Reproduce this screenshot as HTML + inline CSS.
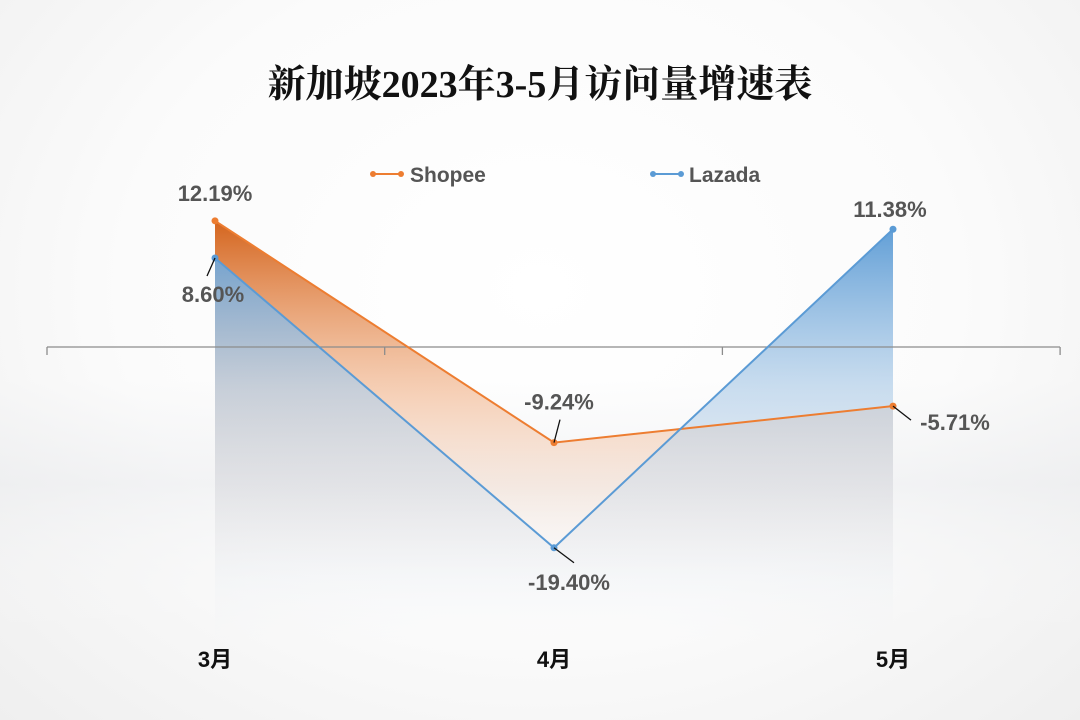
<!DOCTYPE html>
<html><head><meta charset="utf-8"><style>
html,body{margin:0;padding:0;width:1080px;height:720px;overflow:hidden}
body{background:radial-gradient(ellipse at 50% 40%,#ffffff 0%,#fbfbfb 55%,#efefef 100%);font-family:"Liberation Sans","Noto Sans CJK SC",sans-serif}
</style></head><body>
<svg width="1080" height="720" xmlns="http://www.w3.org/2000/svg">
<defs>
<linearGradient id="og" gradientUnits="userSpaceOnUse" x1="0" y1="217" x2="0" y2="580">
<stop offset="0" stop-color="#d3621a" stop-opacity="1"/><stop offset="0.5" stop-color="#f0a878" stop-opacity="0.5"/><stop offset="1" stop-color="#fbe6d8" stop-opacity="0"/></linearGradient>
<linearGradient id="bg" gradientUnits="userSpaceOnUse" x1="0" y1="220" x2="0" y2="640">
<stop offset="0" stop-color="#5b9bd5" stop-opacity="1"/><stop offset="0.4" stop-color="#b3cfe9" stop-opacity="0.7"/><stop offset="0.75" stop-color="#dfe6ee" stop-opacity="0.4"/><stop offset="1" stop-color="#eef1f5" stop-opacity="0"/></linearGradient>
<linearGradient id="floor" x1="0" y1="0" x2="0" y2="1"><stop offset="0" stop-color="#e4e6ea" stop-opacity="0"/><stop offset="0.4" stop-color="#e2e4e8" stop-opacity="0.35"/><stop offset="1" stop-color="#ffffff" stop-opacity="0"/></linearGradient>
</defs>
<rect x="0" y="380" width="1080" height="260" fill="url(#floor)"/>
<text x="540" y="97" text-anchor="middle" font-family="'Liberation Serif','Noto Serif CJK SC',serif" font-size="38" font-weight="bold" fill="#111">新加坡2023年3-5月访问量增速表</text>
<g>
<g><line x1="372" y1="174" x2="402" y2="174" stroke="#ed7d31" stroke-width="2"/><circle cx="373" cy="174" r="3" fill="#ed7d31"/><circle cx="401" cy="174" r="3" fill="#ed7d31"/><text x="410" y="182" font-size="21" font-weight="bold" fill="#555">Shopee</text></g>
<g><line x1="652" y1="174" x2="682" y2="174" stroke="#5b9bd5" stroke-width="2"/><circle cx="653" cy="174" r="3" fill="#5b9bd5"/><circle cx="681" cy="174" r="3" fill="#5b9bd5"/><text x="689" y="182" font-size="21" font-weight="bold" fill="#555">Lazada</text></g>
</g>
<g id="plot"></g>
<script>
const categories=["3月","4月","5月"];
const shopee=[12.19,-9.24,-5.71];
const lazada=[8.60,-19.40,11.38];
const shopeeLabels=["12.19%","-9.24%","-5.71%"];
const lazadaLabels=["8.60%","-19.40%","11.38%"];
const NS="http://www.w3.org/2000/svg";
const plot=document.getElementById('plot');
function xs(i){return 215+i*339;}
function ys(v){return 347-v*10.35;}
function mk(tag,attrs,parent){const e=document.createElementNS(NS,tag);for(const k in attrs)e.setAttribute(k,attrs[k]);(parent||plot).appendChild(e);return e;}
function area(arr,fill,bottom){let d='M'+xs(0)+','+bottom;arr.forEach((v,i)=>d+=' L'+xs(i)+','+ys(v));d+=' L'+xs(arr.length-1)+','+bottom+' Z';return mk('path',{d:d,fill:fill});}
const ao=area(shopee,'url(#og)',640);


const ab=area(lazada,'url(#bg)',640);


const ax=mk('line',{x1:47,y1:347,x2:1060,y2:347,stroke:'#8c8c8c','stroke-width':1.3});


[0,1,2,3].forEach(i=>{const t=mk('line',{x1:47+i*337.7,y1:347,x2:47+i*337.7,y2:355,stroke:'#8c8c8c','stroke-width':1.3});

});
function line(arr,color,name){const pts=arr.map((v,i)=>xs(i)+','+ys(v)).join(' ');const p=mk('polyline',{points:pts,fill:'none',stroke:color,'stroke-width':2});


arr.forEach((v,i)=>{const c=mk('circle',{cx:xs(i),cy:ys(v),r:3.5,fill:color});

});}
line(shopee,'#ed7d31','shopee');
line(lazada,'#5b9bd5','lazada');
const sOff=[[0,-20,false],[5,-33,true],[62,24,true]];
const lOff=[[-2,44,true],[15,42,true],[-3,-12,false]];
function labels(arr,lbls,offs,name){arr.forEach((v,i)=>{const x=xs(i),y=ys(v);const o=offs[i];
if(o[2]){const l=mk('line',{x1:x,y1:y,x2:o[0]>30?x+18:(o[1]<0?x+6:x+(o[0]>5?20:-8)),y2:o[0]>30?y+14:(o[1]<0?y-23:y+(o[0]>5?15:18)),stroke:'#111','stroke-width':1.3});

}
const t=mk('text',{x:x+o[0],y:y+o[1],'text-anchor':'middle','font-size':22,'font-weight':'bold',fill:'#555'});t.textContent=lbls[i];

});}
labels(shopee,shopeeLabels,sOff,'shopee');
labels(lazada,lazadaLabels,lOff,'lazada');
categories.forEach((c,i)=>{const t=mk('text',{x:xs(i),y:667,'text-anchor':'middle','font-size':22,'font-weight':'bold',fill:'#111'});t.textContent=c;

});
</script>
</svg>
</body></html>
